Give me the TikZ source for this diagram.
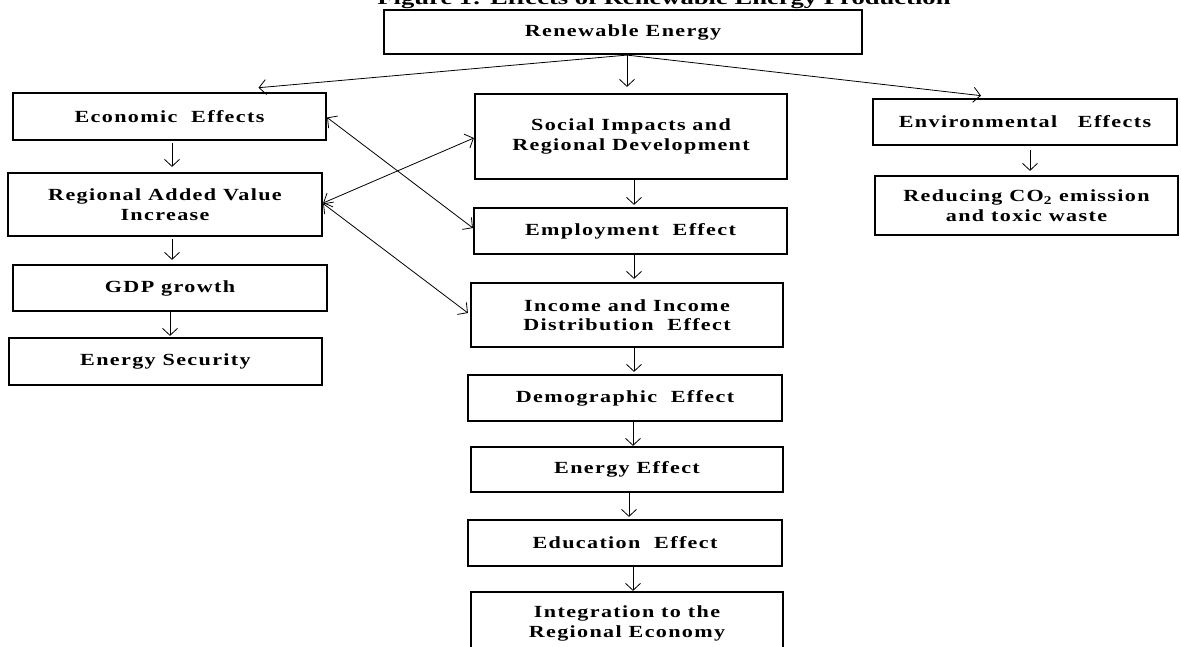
\documentclass[tikz,border=0pt]{standalone}
\usepackage{fontspec}
\setmainfont{Liberation Serif}
\newfontfamily\boxfont{Liberation Serif}[FakeStretch=1.3,LetterSpace=8]
\newfontfamily\titlefont{Liberation Serif}[FakeStretch=1.4]
\usetikzlibrary{arrows.meta}
\begin{document}
\begin{tikzpicture}[x=1pt,y=-1pt,
  box/.style={draw, line width=2.2pt, inner sep=0pt, align=center,
    font=\boxfont\bfseries\fontsize{17}{19.5}\selectfont},
  arr/.style={-{Straight Barb[length=7pt,width=15pt]}, line width=0.8pt,
    shorten <=2pt, shorten >=2pt},
  darr/.style={{Straight Barb[length=7pt,width=15pt]}-{Straight Barb[length=7pt,width=15pt]}, line width=0.8pt}]
\useasboundingbox (0,0) rectangle (1181,647);
\clip (0,0) rectangle (1181,647);
\node[font=\titlefont\bfseries\fontsize{19}{22}\selectfont, anchor=base] (title) at (664,5) {Figure 1: Effects of Renewable Energy Production};
\node[box, minimum width=478, minimum height=44] (renew) at (623,32) {Renewable Energy};
% left column
\node[box, minimum width=313, minimum height=47] (econ) at (169.5,116.5) {Economic\ \ Effects};
\node[box, minimum width=314, minimum height=63] (rav) at (165,204.5) {Regional Added Value\\Increase};
\node[box, minimum width=314, minimum height=46] (gdp) at (170,288) {GDP growth};
\node[box, minimum width=313, minimum height=47] (sec) at (165.5,361.5) {Energy Security};
% middle column
\node[box, minimum width=312, minimum height=85] (soc) at (631,136.5) {Social Impacts and\\Regional Development};
\node[box, minimum width=313, minimum height=46] (emp) at (630.5,231) {Employment\ \ Effect};
\node[box, minimum width=312, minimum height=64] (inc) at (627,315) {Income and Income\\Distribution\ \ Effect};
\node[box, minimum width=314, minimum height=46] (dem) at (625,398) {Demographic\ \ Effect};
\node[box, minimum width=312, minimum height=45] (ene) at (627,469.5) {Energy Effect};
\node[box, minimum width=314, minimum height=46] (edu) at (625,543) {Education\ \ Effect};
\node[box, minimum width=312, minimum height=63] (integ) at (627,623.5) {Integration to the\\Regional Economy};
% right column
\node[box, minimum width=304, minimum height=46] (env) at (1025,122) {Environmental\ \ \ Effects};
\node[box, minimum width=303, minimum height=59] (red) at (1026.5,205.5) {Reducing CO\textsubscript{2} emission\\and toxic waste};
% top arrows
\draw[arr, shorten <=0pt] ([xshift=4pt]renew.south) -- ([xshift=87pt,yshift=4pt]econ.north);
\draw[arr, shorten <=0pt, shorten >=6pt] ([xshift=4pt]renew.south) -- ([xshift=4pt]renew.south |- soc.north);
\draw[arr, shorten <=0pt] ([xshift=4pt]renew.south) -- ([xshift=-42pt,yshift=2pt]env.north);
% vertical arrows
\draw[arr, shorten >=5pt] ([xshift=2.5pt]econ.south) -- ([xshift=2.5pt]econ.south |- rav.north);
\draw[arr, shorten >=4pt] ([xshift=7pt]rav.south) -- ([xshift=7pt]rav.south |- gdp.north);
\draw[arr, shorten <=0pt, shorten >=1pt] (gdp.south) -- (gdp.south |- sec.north);
\draw[arr, shorten <=0pt] ([xshift=3pt]soc.south) -- ([xshift=3pt]soc.south |- emp.north);
\draw[arr, shorten <=0pt, shorten >=3pt] ([xshift=3.5pt]emp.south) -- ([xshift=3.5pt]emp.south |- inc.north);
\draw[arr, shorten <=0pt] ([xshift=7pt]inc.south) -- ([xshift=7pt]inc.south |- dem.north);
\draw[arr, shorten <=0pt, shorten >=0pt] ([xshift=8pt]dem.south) -- ([xshift=8pt]dem.south |- ene.north);
\draw[arr, shorten <=0pt] ([xshift=2pt]ene.south) -- ([xshift=2pt]ene.south |- edu.north);
\draw[arr, shorten <=0pt, shorten >=0pt] ([xshift=8pt]edu.south) -- ([xshift=8pt]edu.south |- integ.north);
\draw[arr, shorten <=4pt, shorten >=4pt] ([xshift=5pt]env.south) -- ([xshift=5pt]env.south |- red.north);
% cross arrows
\draw[darr] ([yshift=-1pt]econ.east) -- ([yshift=3pt]emp.west);
\draw[darr] ([yshift=1.5pt]rav.east) -- ([yshift=-1.5pt]soc.west);
\draw[darr] ([yshift=1pt]rav.east) -- ([xshift=-2pt,yshift=2pt]inc.west);
\end{tikzpicture}
\end{document}
